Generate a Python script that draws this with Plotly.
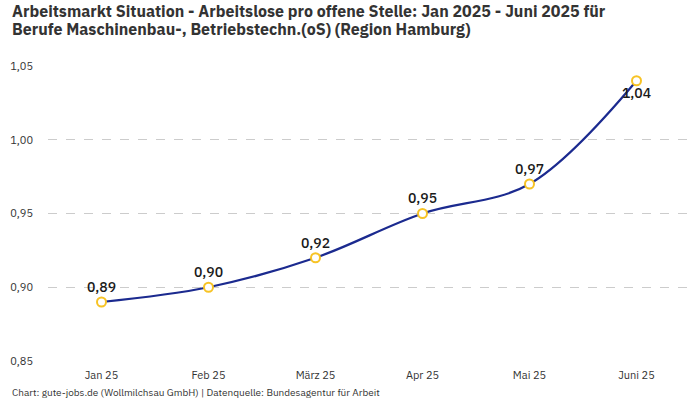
import plotly.graph_objects as go

months = ["Jan 25", "Feb 25", "März 25", "Apr 25", "Mai 25", "Juni 25"]
values = [0.89, 0.90, 0.92, 0.95, 0.97, 1.04]
labels = ["0,89", "0,90", "0,92", "0,95", "0,97", "1,04"]
label_pos = ["top center"] * 5 + ["bottom center"]
y_ticks = [0.85, 0.90, 0.95, 1.00, 1.05]
y_tick_text = ["0,85", "0,90", "0,95", "1,00", "1,05"]
title_lines = [
    "Arbeitsmarkt Situation - Arbeitslose pro offene Stelle: Jan 2025 - Juni 2025 für",
    "Berufe Maschinenbau-, Betriebstechn.(oS) (Region Hamburg)",
]

FONT = "IBM Plex Sans, Roboto, sans-serif"

fig = go.Figure()
fig.add_trace(go.Scatter(
    x=months, y=values, mode="lines+markers+text",
    text=labels, textposition=label_pos,
    textfont=dict(family=FONT, size=14, color="#1a1a1a", weight=500),
    line=dict(color="#1b2a8f", width=2.2, shape="spline", smoothing=1.0),
    marker=dict(size=9, color="white", line=dict(color="#f7c325", width=2)),
    cliponaxis=False, hoverinfo="skip",
))

fig.update_layout(
    width=700, height=400,
    margin=dict(l=48, r=10, t=66, b=39),
    paper_bgcolor="white", plot_bgcolor="white",
    showlegend=False,
    font=dict(family=FONT, size=11, color="#333333"),
    xaxis=dict(
        type="category", range=[-0.5, 5.5], showgrid=False, zeroline=False,
        showline=False, ticks="", ticklabelstandoff=6,
        tickfont=dict(size=11, color="#333333"),
    ),
    yaxis=dict(
        range=[0.85, 1.05], tickvals=y_ticks, ticktext=y_tick_text,
        showgrid=True, gridcolor="#cccccc", griddash="dash", gridwidth=1,
        zeroline=False, showline=False, ticks="", ticklabelstandoff=14,
        tickfont=dict(size=11, color="#333333"),
    ),
)

for line, ypos in zip(title_lines, [1.188, 1.124]):
    fig.add_annotation(
        text="<b>" + line + "</b>",
        xref="paper", yref="paper", x=-0.059, y=ypos, xanchor="left", yanchor="middle",
        align="left", showarrow=False,
        font=dict(family=FONT, size=16, color="#333333"),
    )

fig.add_annotation(
    text="Chart: gute-jobs.de (Wollmilchsau GmbH) | Datenquelle: Bundesagentur für Arbeit",
    xref="paper", yref="paper", x=-0.059, y=-0.108, xanchor="left", yanchor="middle",
    showarrow=False, font=dict(family=FONT, size=10, color="#333333"),
)

fig.write_html("out.html", config={"displayModeBar": False},
               post_script="document.body.style.margin='0';")
